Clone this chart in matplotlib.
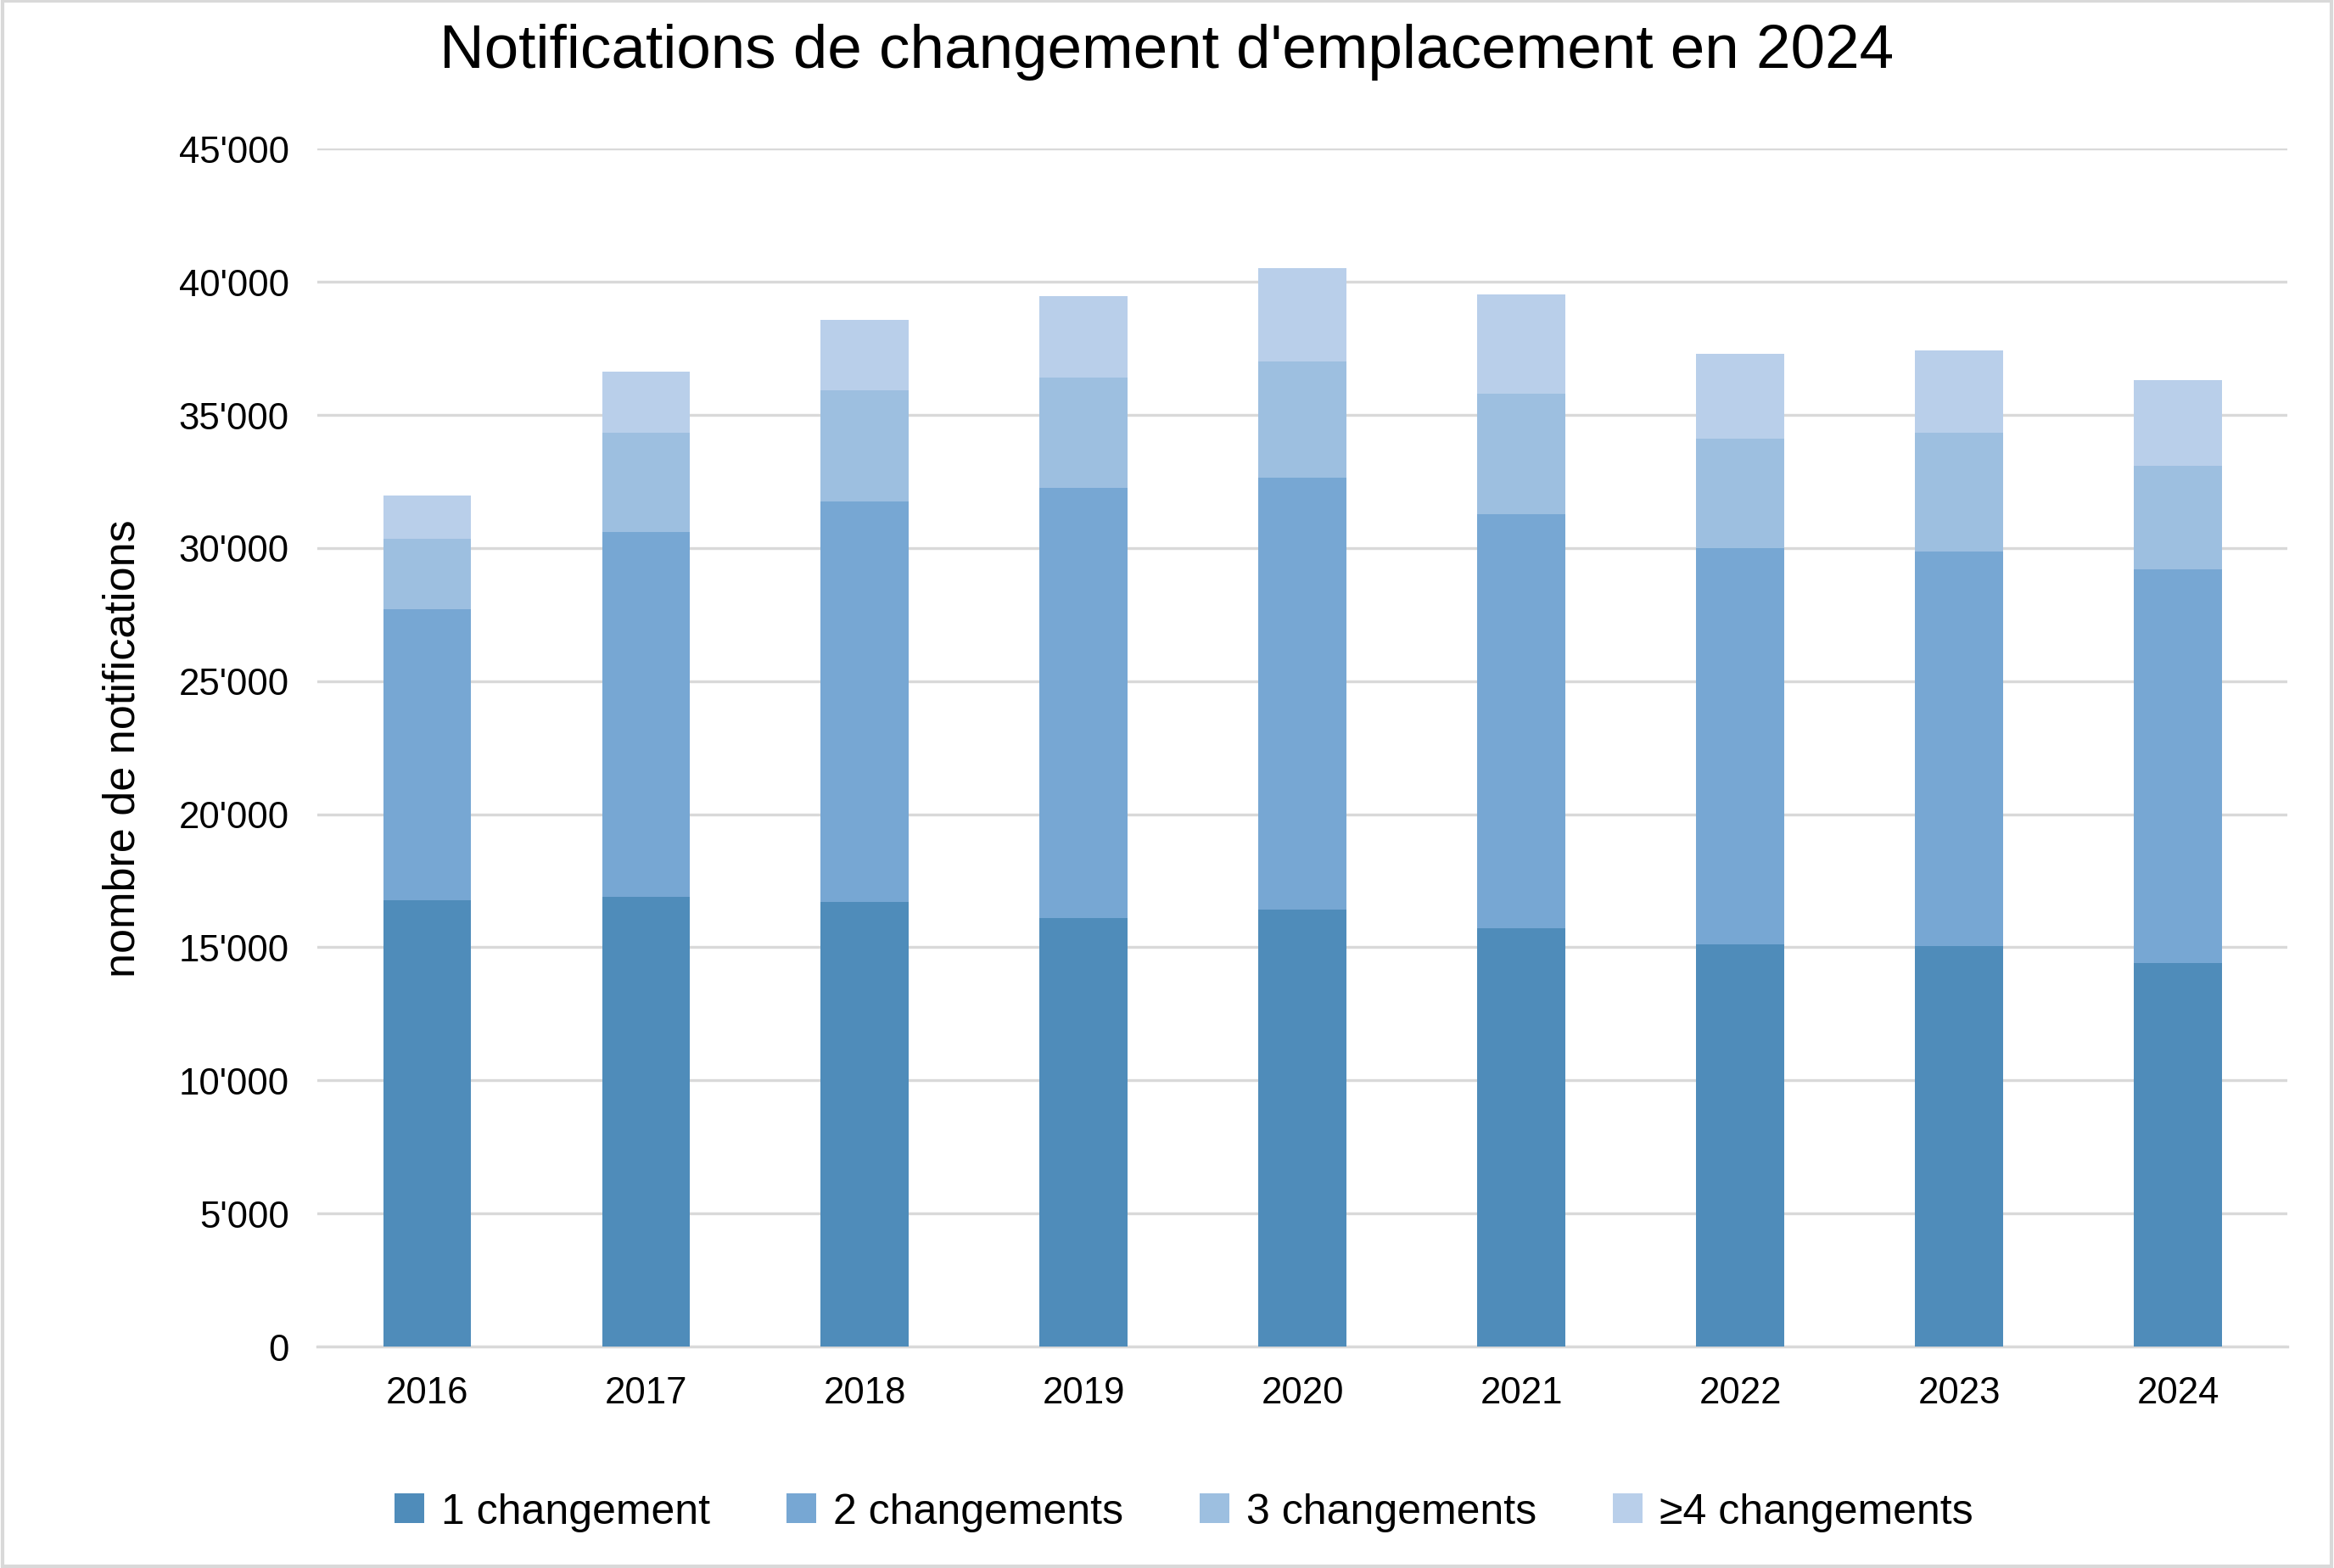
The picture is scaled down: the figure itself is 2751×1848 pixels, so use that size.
import matplotlib.pyplot as plt
import numpy as np

plt.rcParams["font.family"] = "Liberation Sans"

annees = ["2016", "2017", "2018", "2019", "2020", "2021", "2022", "2023", "2024"]
# valeurs cumulées
ch1 = [16770, 16880, 16700, 16100, 16430, 15700, 15100, 15040, 14420]
ch2 = [10930, 13700, 15050, 16150, 16210, 15550, 14900, 14810, 14760]
ch3 = [2650, 3740, 4150, 4150, 4360, 4520, 4100, 4470, 3910]
ch4 = [1620, 2280, 2670, 3060, 3500, 3730, 3180, 3080, 3190]

series = [ch1, ch2, ch3, ch4]
noms = ["1 changement", "2 changements", "3 changements", "≥4 changements"]
couleurs = ["#4f8cba", "#77a7d3", "#9dbfe0", "#b9cfea"]

fig = plt.figure(figsize=(9.17, 6.163), dpi=300)
ax = fig.add_axes([0.136, 0.141, 0.844, 0.764])

x = np.arange(len(annees))
bas = np.zeros(len(annees))
for vals, nom, c in zip(series, noms, couleurs):
    ax.bar(x, vals, 0.4, bottom=bas, color=c, label=nom, zorder=3)
    bas += np.array(vals)

ax.set_ylim(0, 45000)
ax.set_xlim(-0.5, len(annees) - 0.5)
ax.set_yticks(range(0, 45001, 5000))
ax.set_yticklabels([f"{v//1000}'000" if v else "0" for v in range(0, 45001, 5000)], fontsize=10.5)
ax.set_xticks(x)
ax.set_xticklabels(annees, fontsize=10.5)
ax.tick_params(length=0, pad=8)
ax.grid(axis="y", color="#d9d9d9", linewidth=0.8, zorder=0)
for s in ["top", "right", "left"]:
    ax.spines[s].set_visible(False)
ax.spines["bottom"].set_color("#d9d9d9")

ax.set_ylabel("nombre de notifications", fontsize=12.5, labelpad=10)
fig.suptitle("Notifications de changement d'emplacement en 2024", fontsize=17.5, y=0.985)

ax.legend(loc="upper center", bbox_to_anchor=(0.44, -0.09), ncol=4, frameon=False,
          fontsize=12, handlelength=0.7, handleheight=0.7, handletextpad=0.4, columnspacing=1.8)

fig.patches.append(plt.Rectangle((0.001, 0.001), 0.998, 0.998, transform=fig.transFigure,
                                 fill=False, edgecolor="#d9d9d9", linewidth=1))

plt.savefig("out.png", dpi=300)
